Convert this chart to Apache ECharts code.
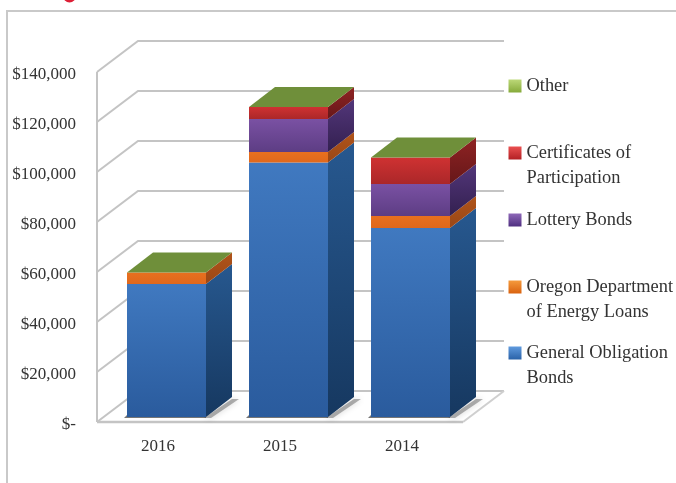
<!DOCTYPE html>
<html><head><meta charset="utf-8">
<style>html,body{margin:0;padding:0;background:#fff}#c{width:676px;height:483px}</style>
<script src="https://cdn.jsdelivr.net/npm/echarts@6/dist/echarts.min.js"></script>
</head><body><div id="c"></div>
<script>
const categories = ['2016','2015','2014'];
const generalObligation = [53200,101800,75600];
const oregonEnergy = [4600,4200,4800];
const lotteryBonds = [0,13200,12800];
const certificates = [0,4800,10600];
const other = [0,0,0];
const tickValues = [0,20000,40000,60000,80000,100000,120000,140000];

const FONT = '"Liberation Serif", serif';
const WALL_DX = 41, WALL_DY = -31;
const BAR_W = 79, BAR_OX = 8.5, BAR_OY = -5, BAR_DX = 26, BAR_DY = -20;
const vgrad = (a,b)=>new echarts.graphic.LinearGradient(0,0,0,1,[{offset:0,color:a},{offset:1,color:b}]);

const segs = [
 {name:'General Obligation Bonds',label:'General Obligation\nBonds',vals:generalObligation,front:['#4079c0','#2a5b9d'],side:['#27588f','#163860'],legend:['#5f9ade','#2a62a8']},
 {name:'Oregon Department of Energy Loans',label:'Oregon Department\nof Energy Loans',vals:oregonEnergy,front:['#e8701f','#e0681c'],side:['#b0541a','#9a4716'],legend:['#f59a3c','#d9620f']},
 {name:'Lottery Bonds',label:'Lottery Bonds',vals:lotteryBonds,front:['#7a51a3','#5d3d84'],side:['#53367a','#332050'],legend:['#8e68b8','#4f2f80']},
 {name:'Certificates of Participation',label:'Certificates of\nParticipation',vals:certificates,front:['#cf3232','#ab2729'],side:['#8f2323','#661719'],legend:['#ea5050','#b32024']},
 {name:'Other',label:'Other',vals:other,front:['#6f8f3a','#6f8f3a'],side:['#6f8f3a','#6f8f3a'],legend:['#bcd878','#86aa3a']}
];
const markerY = [353,287,220,153,86];

function poly(pts,fill){return {type:'polygon',shape:{points:pts},style:{fill:fill},silent:true};}

function renderWall(params,api){
  const cs=params.coordSys, l=cs.x, r=cs.x+cs.width, v=api.value(0), y=api.coord([0,v])[1];
  const st={fill:'none',stroke:'#c4c4c4',lineWidth:2};
  const kids=[{type:'polyline',shape:{points:[[l,y],[l+WALL_DX,y+WALL_DY],[r+WALL_DX,y+WALL_DY]]},style:st}];
  if(v===0){
    kids.push({type:'line',shape:{x1:r,y1:y,x2:r+WALL_DX,y2:y+WALL_DY},style:{stroke:'#cfcfcf',lineWidth:2}});
    kids.push({type:'line',shape:{x1:l,y1:y,x2:l,y2:api.coord([0,140000])[1]},style:{stroke:'#c4c4c4',lineWidth:2}});
    kids.push({type:'line',shape:{x1:l,y1:y,x2:r,y2:y},style:{stroke:'#c4c4c4',lineWidth:2.6}});
  }
  return {type:'group',silent:true,children:kids};
}
function renderShadow(params,api){
  const p=api.coord([api.value(0),0]), x=p[0]+BAR_OX-BAR_W/2, y=p[1]+BAR_OY, X=x+BAR_W;
  return {type:'group',silent:true,children:[
    {type:'polygon',shape:{points:[[X-2,y+1],[X+BAR_DX,y+BAR_DY+2],[X+BAR_DX+7,y+BAR_DY+2],[X+5,y+1]]},
     style:{fill:'rgba(40,40,40,.35)',shadowBlur:6,shadowColor:'rgba(0,0,0,.5)'}},
    {type:'polygon',shape:{points:[[x-3,y+1],[X,y+1],[X,y-2],[x,y-2]]},style:{fill:'rgba(60,60,60,.7)'}}
  ]};
}
function makeRender(seg,isTop){
  return function(params,api){
    const c=api.value(0), a=api.coord([c,api.value(1)]), b=api.coord([c,api.value(2)]);
    const x=a[0]+BAR_OX-BAR_W/2, X=x+BAR_W, y0=a[1]+BAR_OY, y1=b[1]+BAR_OY, kids=[];
    if(y0-y1>0.01){
      kids.push(poly([[x,y1],[X,y1],[X,y0],[x,y0]],vgrad(seg.front[0],seg.front[1])));
      kids.push(poly([[X,y1],[X+BAR_DX,y1+BAR_DY],[X+BAR_DX,y0+BAR_DY],[X,y0]],vgrad(seg.side[0],seg.side[1])));
    }
    if(isTop) kids.push(poly([[x,y1],[X,y1],[X+BAR_DX,y1+BAR_DY],[x+BAR_DX,y1+BAR_DY]],seg.front[0]));
    return {type:'group',silent:true,children:kids};
  };
}

const totalsBelow=categories.map(()=>0);
const barSeries=segs.map((seg,si)=>{
  const data=seg.vals.map((v,i)=>{const d=[i,totalsBelow[i],totalsBelow[i]+v];totalsBelow[i]+=v;return d;});
  return {type:'custom',name:seg.name,coordinateSystem:'cartesian2d',clip:false,z:5,
    encode:{x:0,y:[1,2]},itemStyle:{color:seg.legend[1]},data:data,renderItem:makeRender(seg,si===segs.length-1)};
});

const LH=25, TEXT_PAD=3;
const legends=segs.map((seg,i)=>{
  const two=seg.label.indexOf('\n')>=0;
  return {show:true,left:508.5,top:markerY[i]-((two?LH*3:LH)+TEXT_PAD)/2,itemWidth:13,itemHeight:13,padding:0,selectedMode:false,
    data:[{name:seg.name,icon:'rect',itemStyle:{color:vgrad(seg.legend[0],seg.legend[1])}}],
    formatter:()=>(two?'\n':'')+seg.label,
    textStyle:{fontFamily:FONT,fontSize:18.4,color:'#333',lineHeight:LH,padding:[0,0,TEXT_PAD,0]}};
});

const chart=echarts.init(document.getElementById('c'),null,{renderer:'canvas'});
chart.setOption({
  animation:false,backgroundColor:'#fff',
  grid:{left:97,top:72,width:366,height:350,containLabel:false},
  legend:legends,
  graphic:[
    {type:'polyline',silent:true,shape:{points:[[7,483],[7,11],[676,11]]},style:{fill:'none',stroke:'#c9c9c9',lineWidth:2}},
    {type:'circle',silent:true,shape:{cx:69.5,cy:-4,r:6.5},style:{fill:'#dd1f36'}}
  ],
  xAxis:{type:'category',data:categories,axisLine:{show:false},axisTick:{show:false},
    axisLabel:{margin:16,fontFamily:FONT,fontSize:17,color:'#333'}},
  yAxis:{type:'value',min:0,max:140000,interval:20000,axisLine:{show:false},axisTick:{show:false},splitLine:{show:false},
    axisLabel:{margin:21,color:'#333',
      rich:{t:{fontFamily:FONT,fontSize:17,color:'#333',padding:[5,0,0,0],lineHeight:20}},
      formatter:v=>'{t|'+(v===0?'$-':'$'+v.toLocaleString('en-US'))+'}'}},
  series:[
    {type:'custom',coordinateSystem:'cartesian2d',clip:false,z:1,data:tickValues.map(v=>[v]),encode:{y:0},renderItem:renderWall},
    {type:'custom',coordinateSystem:'cartesian2d',clip:false,z:2,data:categories.map((c,i)=>[i]),encode:{x:0},renderItem:renderShadow}
  ].concat(barSeries)
});
</script></body></html>
